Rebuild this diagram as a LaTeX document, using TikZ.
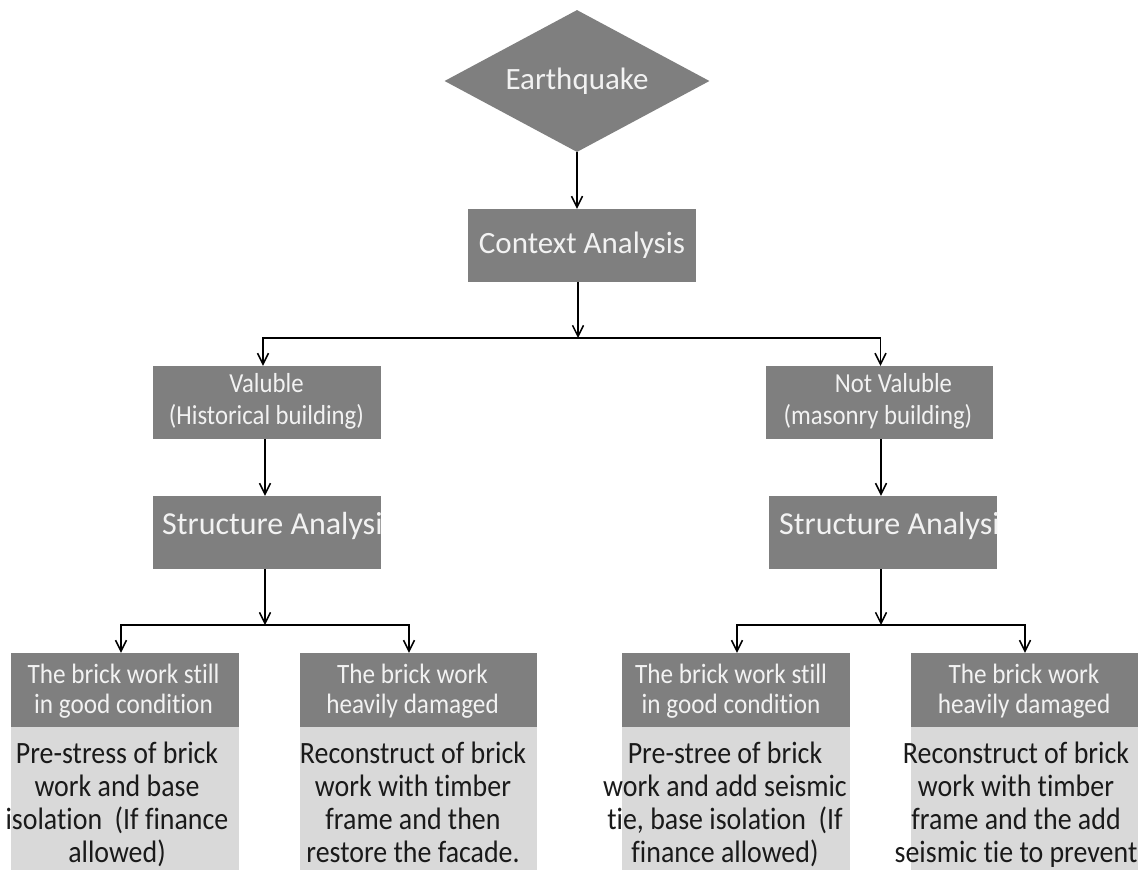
\documentclass[tikz,border=0pt]{standalone}
\usepackage{fontspec}
\setmainfont{Carlito}[Ligatures=NoCommon]
\newfontfamily\narrowfont{Carlito}[FakeStretch=0.9, Ligatures=NoCommon]
\usetikzlibrary{shapes.geometric,arrows.meta}
\definecolor{boxdark}{HTML}{7F7F7F}
\definecolor{boxlight}{HTML}{D9D9D9}
\definecolor{paletext}{HTML}{F2F2F2}
\definecolor{inktext}{HTML}{1A1A1A}

\begin{document}
\begin{tikzpicture}[x=1pt,y=-1pt,
  darkbox/.style={fill=boxdark, draw=none, inner sep=0pt, minimum width=228pt, minimum height=73pt},
  lightbox/.style={fill=boxlight, draw=none, inner sep=0pt, minimum width=228pt, minimum height=143pt},
  bigtxt/.style={text=paletext, font=\fontsize{31}{37}\selectfont},
  classtxt/.style={text=paletext, font=\narrowfont\fontsize{27.5}{32}\selectfont, align=center,
                   anchor=base, inner sep=0pt},
  condtxt/.style={text=paletext, font=\narrowfont\fontsize{28}{30}\selectfont, align=center,
                  anchor=base, inner sep=0pt},
  inktxt/.style={text=inktext, font=\narrowfont\fontsize{31}{33}\selectfont, align=center,
                 anchor=base, inner sep=0pt},
  arr/.style={line width=1.5pt, -{Straight Barb[length=11pt,width=11pt,line width=1.5pt]}}]
\useasboundingbox (0,0) rectangle (1143,870);

% top of the chart
\node[diamond, fill=boxdark, inner sep=0pt, minimum width=265pt, minimum height=142pt,
      aspect=1.866, bigtxt] (eq) at (577,81) {Earthquake};
\node[darkbox, bigtxt] (ctx) at (582,245.5) {Context Analysis};

% the two building classes
\node[darkbox] (val) at (267,402.5) {};
\node[darkbox, minimum width=227pt] (nval) at (879.5,402.5) {};
\node[classtxt] (valt) at (266.5,424) {Valuble\\(Historical building)};
\node[classtxt] (nvalt) at (878,424) {\hspace*{31pt}Not Valuble\\(masonry building)};

% structure analysis boxes, label cut at the right edge
\node[darkbox] (sa1) at (267,532.5) {};
\node[darkbox] (sa2) at (883,532.5) {};
\begin{scope}
  \clip (sa1.north west) rectangle (sa1.south east);
  \node[bigtxt, font=\fontsize{32}{38}\selectfont, anchor=base west, inner sep=0pt] (sa1t) at (162,534) {Structure Analysis};
\end{scope}
\begin{scope}
  \clip (sa2.north west) rectangle (sa2.south east);
  \node[bigtxt, font=\fontsize{32}{38}\selectfont, anchor=base west, inner sep=0pt] (sa2t) at (779,534) {Structure Analysis};
\end{scope}

% condition boxes
\node[darkbox, minimum height=74pt] (b1) at (125,690) {};
\node[darkbox, minimum height=74pt, minimum width=237pt] (b2) at (418.5,690) {};
\node[darkbox, minimum height=74pt] (b3) at (736,690) {};
\node[darkbox, minimum height=74pt, minimum width=227pt] (b4) at (1024.5,690) {};

% measure boxes
\node[lightbox] (r1) at (125,798.5) {};
\node[lightbox, minimum width=237pt] (r2) at (418.5,798.5) {};
\node[lightbox] (r3) at (736,798.5) {};
\node[lightbox, minimum width=227pt] (r4) at (1024.5,798.5) {};

\node[condtxt] (b1t) at (123.5,713) {The brick work still\\in good condition};
\node[condtxt] (b2t) at (412.5,713) {The brick work\\heavily damaged};
\node[condtxt] (b3t) at (731,713) {The brick work still\\in good condition};
\node[condtxt] (b4t) at (1024,713) {The brick work\\heavily damaged};

\node[inktxt] (r1t) at (117,862)
     {Pre-stress of brick\\work and base\\isolation\ \ (If finance\\allowed)};
\node[inktxt] (r2t) at (413,862)
     {Reconstruct of brick\\work with timber\\frame and then\\restore the facade.};
\node[inktxt] (r3t) at (725,862)
     {Pre-stree of brick\\work and add seismic\\tie, base isolation\ \ (If\\finance allowed)};
\node[inktxt] (r4t) at (1016,862)
     {Reconstruct of brick\\work with timber\\frame and the add\\seismic tie to prevent};

% connectors
\coordinate (bus1) at (578,338);
\coordinate (bus2L) at (265,625);
\coordinate (bus2R) at (881,625);
\draw[arr] (eq.south) -- (eq.south |- ctx.north);
\draw[arr] (bus1 |- ctx.south) -- (bus1);
\draw[arr] (bus1) -| ([xshift=-4pt]val.north);
\draw[arr] (bus1) -| ([xshift=1pt]nval.north);
\draw[arr] ([xshift=-2pt]val.south) -- ([xshift=-2pt]val.south |- sa1.north);
\draw[arr] ([xshift=1.5pt]nval.south) -- ([xshift=1.5pt]nval.south |- sa2.north);
\draw[arr] (bus2L |- sa1.south) -- (bus2L);
\draw[arr] (bus2L) -| ([xshift=-4pt]b1.north);
\draw[arr] (bus2L) -| ([xshift=-9.5pt]b2.north);
\draw[arr] (bus2R |- sa2.south) -- (bus2R);
\draw[arr] (bus2R) -| ([xshift=1pt]b3.north);
\draw[arr] (bus2R) -| ([xshift=0.5pt]b4.north);
\end{tikzpicture}
\end{document}
